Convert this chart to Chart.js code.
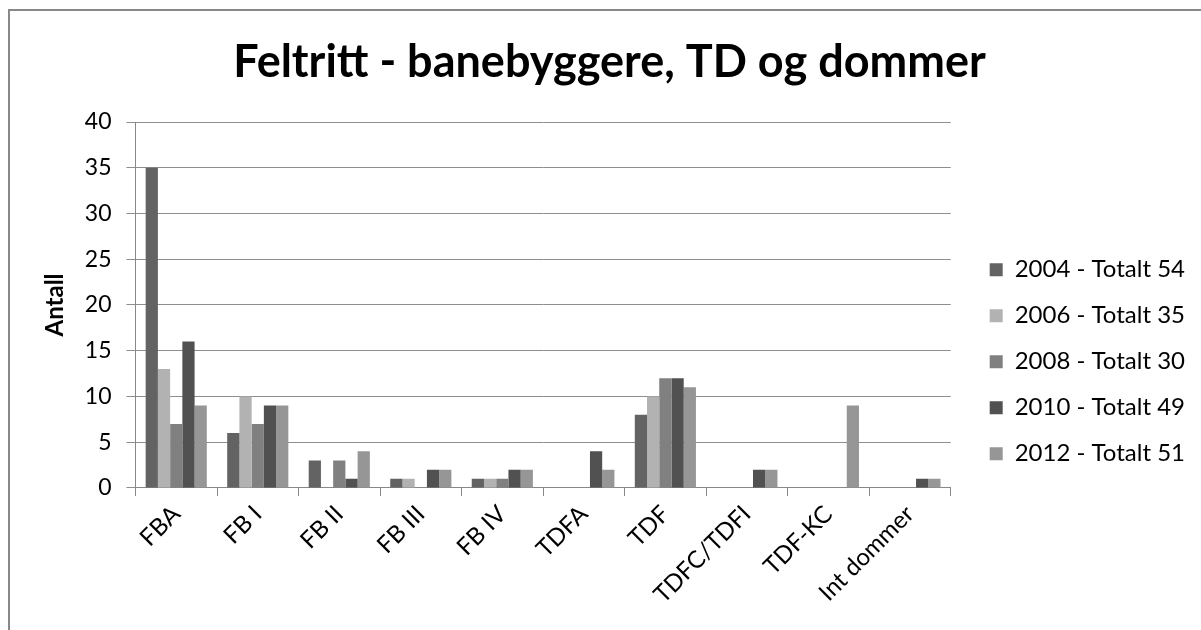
<!DOCTYPE html>
<html>
<head>
<meta charset="utf-8">
<script src="https://cdn.jsdelivr.net/npm/chart.js@4"></script>
<style>
  body { margin: 0; background: #fff; overflow: hidden; }
  #wrap { position: relative; width: 1201px; height: 630px; }
  #frame {
    position: absolute; left: 8px; top: 9px; width: 1300px; height: 700px;
    border-left: 2px solid #888; border-top: 2px solid #888;
  }
  canvas { position: absolute; left: 0; top: 0; }
</style>
</head>
<body>
<div id="wrap">
  <div id="frame"></div>
  <canvas id="chart" width="1201" height="630"></canvas>
</div>
<script>
const categories = ["FBA", "FB I", "FB II", "FB III", "FB IV", "TDFA", "TDF", "TDFC/TDFI", "TDF-KC", "Int dommer"];
const seriesNames = ["2004 - Totalt 54", "2006 - Totalt 35", "2008 - Totalt 30", "2010 - Totalt 49", "2012 - Totalt 51"];
const values2004 = [35, 6, 3, 1, 1, 0, 8, 0, 0, 0];
const values2006 = [13, 10, 0, 1, 1, 0, 10, 0, 0, 0];
const values2008 = [7, 7, 3, 0, 1, 0, 12, 0, 0, 0];
const values2010 = [16, 9, 1, 2, 2, 4, 12, 2, 0, 1];
const values2012 = [9, 9, 4, 2, 2, 2, 11, 2, 9, 1];
const yTicks = [0, 5, 10, 15, 20, 25, 30, 35, 40];
const colors = ["#636363", "#b2b2b2", "#808080", "#515151", "#969696"];

const allValues = [values2004, values2006, values2008, values2010, values2012];
const font = "Lato, 'Open Sans', sans-serif";

// push the legend into the right padding so there is a gap after the plot
const legendShift = {
  id: "legendShift",
  afterLayout(chart) {
    chart.legend.left += 17;
    chart.legend.right += 17;
  },
};

new Chart(document.getElementById("chart").getContext("2d"), {
  type: "bar",
  data: {
    labels: categories,
    datasets: seriesNames.map((name, i) => ({
      label: name,
      data: allValues[i],
      backgroundColor: colors[i],
      borderWidth: 0,
      categoryPercentage: 0.75,
      barPercentage: 1,
    })),
  },
  plugins: [legendShift],
  options: {
    responsive: false,
    animation: false,
    layout: { padding: { left: 41, right: 23, top: 0, bottom: 17 } },
    plugins: {
      title: {
        display: true,
        text: "Feltritt - banebyggere, TD og dommer",
        color: "#000",
        font: { family: font, size: 45, weight: "bold" },
        padding: { top: 35, bottom: 33 },
      },
      legend: {
        position: "right",
        title: { display: true, text: "", padding: { top: 0, bottom: 96 }, font: { size: 12 } },
        labels: {
          color: "#000",
          font: { family: font, size: 24 },
          boxWidth: 13,
          boxHeight: 13,
          padding: 22,
        },
      },
      tooltip: { enabled: false },
    },
    scales: {
      x: {
        grid: { display: true, drawOnChartArea: false, color: "#888", tickLength: 8, offset: true },
        border: { color: "#888", width: 1 },
        ticks: {
          color: "#000",
          font: { family: font, size: 24 },
          minRotation: 45,
          maxRotation: 45,
          autoSkip: false,
          padding: 4,
        },
      },
      y: {
        min: 0,
        max: 40,
        afterBuildTicks: (axis) => { axis.ticks = yTicks.map((v) => ({ value: v })); },
        grid: { color: "#8e8e8e", tickLength: 9 },
        border: { color: "#888", width: 1 },
        ticks: { color: "#000", font: { family: font, size: 23 }, padding: 15 },
        title: {
          display: true,
          text: "Antall",
          color: "#000",
          font: { family: font, size: 24, weight: "bold" },
          padding: { top: 0, bottom: 0 },
        },
      },
    },
  },
});
</script>
</body>
</html>
